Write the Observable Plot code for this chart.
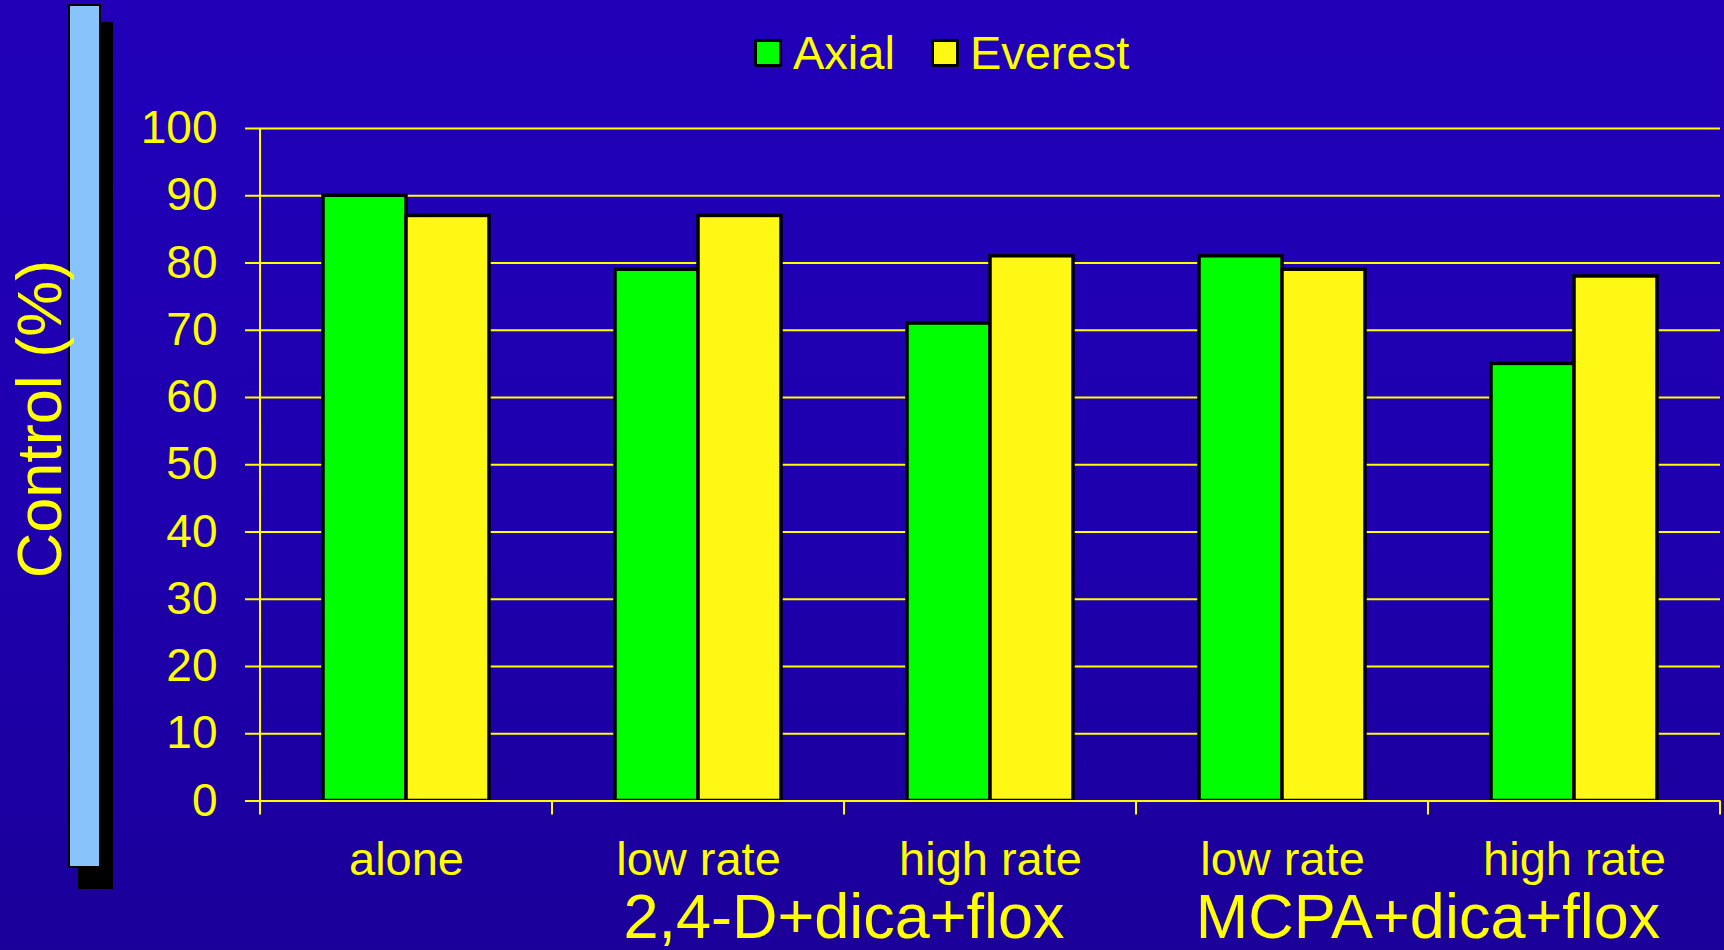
<!DOCTYPE html>
<html>
<head>
<meta charset="utf-8">
<script src="https://cdn.jsdelivr.net/npm/d3@7"></script>
<script src="https://cdn.jsdelivr.net/npm/@observablehq/plot@0.6"></script>
<style>
  html, body { margin: 0; padding: 0; }
  body {
    width: 1724px; height: 950px; overflow: hidden; position: relative;
    background: linear-gradient(180deg, #2100b8 0%, #1f00ae 55%, #1b009a 100%);
    font-family: "Liberation Sans", Arial, sans-serif;
  }
  #legend { position: relative; height: 100px; }
  #legend .row { position: absolute; left: 754px; top: 30px; display: flex; align-items: center; height: 46px; }
  #legend .item { display: flex; align-items: center; color: #ffff00; font-size: 47px; line-height: 46px; }
  #legend .item + .item { margin-left: 36px; }
  #legend .sw { width: 28px; height: 28px; box-sizing: border-box; border: 3px solid #000; border-radius: 2px; margin-right: 11px; }
  #chart svg { display: block; overflow: visible; }
  #shadow { position: absolute; left: 78px; top: 22px; width: 35px; height: 867px; background: #000; }
  #bar { position: absolute; left: 68px; top: 4px; width: 33px; height: 864px; background: #88c4fb; border: 2px solid #000; box-sizing: border-box; }
  #title { position: absolute; left: 0; top: 0; overflow: visible; }
</style>
</head>
<body>
<div id="legend"><div class="row"></div></div>
<div id="chart"></div>
<div id="shadow"></div>
<div id="bar"></div>
<svg id="title" width="130" height="950"></svg>
<script>
// ---- data ----
const categories = ["alone", "low rate", "high rate", "low rate", "high rate"];
const groups = ["", "2,4-D+dica+flox", "2,4-D+dica+flox", "MCPA+dica+flox", "MCPA+dica+flox"];
const seriesNames = ["Axial", "Everest"];
const axialValues = [90, 79, 71, 81, 65];
const everestValues = [87, 87, 81, 79, 78];
const yTicks = [0, 10, 20, 30, 40, 50, 60, 70, 80, 90, 100];
const seriesColors = ["#00ff00", "#fff714"];
const yTitle = "Control (%)";

const rows = [];
categories.forEach((c, i) => {
  rows.push({slot: i, series: seriesNames[0], value: axialValues[i]});
  rows.push({slot: i, series: seriesNames[1], value: everestValues[i]});
});

const YELLOW = "#ffff00";
const FONT = "Liberation Sans, Arial, sans-serif";

// legend
const legendRow = document.querySelector("#legend .row");
seriesNames.forEach((s, i) => {
  const item = document.createElement("div");
  item.className = "item";
  const sw = document.createElement("div");
  sw.className = "sw";
  sw.style.background = seriesColors[i];
  item.appendChild(sw);
  item.appendChild(document.createTextNode(s));
  legendRow.appendChild(item);
});

const plot = Plot.plot({
  width: 1724,
  height: 850,
  marginTop: 28,
  marginBottom: 149.5,
  marginLeft: 258,
  marginRight: 3,
  style: {background: "transparent", color: YELLOW, fontFamily: FONT, overflow: "visible"},
  fx: {domain: d3.range(categories.length), padding: 0},
  x: {domain: seriesNames, paddingInner: 0, paddingOuter: 0.75, axis: null},
  y: {domain: [0, 100]},
  color: {domain: seriesNames, range: seriesColors},
  marks: [
    Plot.gridY(yTicks, {stroke: YELLOW, strokeOpacity: 1, strokeWidth: 2}),
    Plot.barY(rows, {fx: "slot", x: "series", y: "value", fill: "series", stroke: "#000", strokeWidth: 3.5}),
    Plot.ruleY([0], {stroke: YELLOW, strokeWidth: 2}),
    Plot.axisY(yTicks, {tickSize: 15, tickPadding: 28, fontSize: 46, stroke: YELLOW, strokeWidth: 2, strokeOpacity: 1, label: null}),
    Plot.axisFx({anchor: "bottom", tickSize: 0, tickPadding: 41, fontSize: 47, label: null, tickFormat: i => categories[i]})
  ]
});
document.getElementById("chart").appendChild(plot);

// axis line, boundary ticks and group labels from the plot's own scales
const fx = plot.scale("fx");
const y = plot.scale("y");
const bw = fx.bandwidth;
const svg = d3.select(plot);
const g = svg.append("g");
const y0 = y.apply(0);
const bounds = categories.map((c, i) => fx.apply(i)).concat([fx.apply(categories.length - 1) + bw]);
g.append("line")
  .attr("x1", bounds[0]).attr("x2", bounds[0])
  .attr("y1", y.apply(100)).attr("y2", y0 + 14)
  .attr("stroke", YELLOW).attr("stroke-width", 2);
bounds.slice(1).forEach(bx => {
  g.append("line")
    .attr("x1", bx).attr("x2", bx)
    .attr("y1", y0).attr("y2", y0 + 14)
    .attr("stroke", YELLOW).attr("stroke-width", 2);
});
const uniqueGroups = Array.from(new Set(groups.filter(d => d)));
uniqueGroups.forEach(name => {
  const idx = groups.map((d, i) => d === name ? i : -1).filter(i => i >= 0);
  const cx = (fx.apply(idx[0]) + fx.apply(idx[idx.length - 1]) + bw) / 2;
  g.append("text")
    .attr("x", cx).attr("y", y0 + 137)
    .attr("text-anchor", "middle")
    .attr("fill", YELLOW)
    .attr("font-family", FONT)
    .attr("font-size", 63)
    .text(name);
});

// rotated y-axis title
d3.select("#title").append("text")
  .attr("transform", "translate(61,419) rotate(-90)")
  .attr("text-anchor", "middle")
  .attr("fill", YELLOW)
  .attr("font-family", FONT)
  .attr("font-size", 63)
  .text(yTitle);
</script>
</body>
</html>
